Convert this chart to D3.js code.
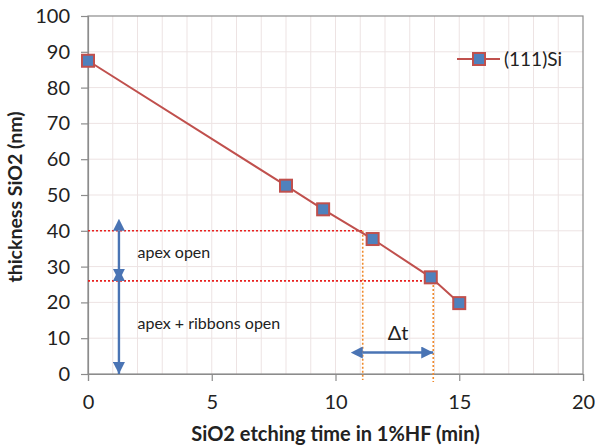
<!DOCTYPE html>
<html>
<head>
<meta charset="utf-8">
<script src="https://cdn.jsdelivr.net/npm/d3@7"></script>
<style>
  body { margin: 0; background: #fff; }
  text { font-family: Lato, "Open Sans", sans-serif; fill: #222; }
</style>
</head>
<body>
<div id="chart"></div>
<script>
// data
const etchTime = [0, 8, 9.5, 11.5, 13.85, 15];
const thickness = [87.5, 52.6, 46, 37.7, 27, 19.8];
const seriesName = "(111)Si";
const xTicks = [0, 5, 10, 15, 20];
const yTicks = [0, 10, 20, 30, 40, 50, 60, 70, 80, 90, 100];

// annotation levels
const apexLevel = 40;
const ribbonLevel = 26;
const apexTime = 11.1;
const ribbonTime = 13.95;
const arrowX = 1.25;
const dtArrowY = 6;

const dimensions = { width: 595, height: 448 };
const margins = { top: 16, right: 12, bottom: 74, left: 88 };
dimensions.ctrWidth = dimensions.width - margins.left - margins.right;
dimensions.ctrHeight = dimensions.height - margins.top - margins.bottom;

const svg = d3.select("#chart").append("svg")
  .attr("width", dimensions.width)
  .attr("height", dimensions.height);

const defs = svg.append("defs");
["start", "end"].forEach((k) => {
  defs.append("marker")
    .attr("id", "arrow-" + k)
    .attr("viewBox", "0 0 10 10")
    .attr("refX", k === "end" ? 10 : 0)
    .attr("refY", 5)
    .attr("markerWidth", 5)
    .attr("markerHeight", 5)
    .attr("markerUnits", "strokeWidth")
    .attr("orient", "auto-start-reverse")
    .append("path")
    .attr("d", "M0,0 L10,5 L0,10 z")
    .attr("fill", "#4a74b4");
});

const ctr = svg.append("g")
  .attr("transform", `translate(${margins.left}, ${margins.top})`);

const xScale = d3.scaleLinear().domain([0, 20]).range([0, dimensions.ctrWidth]);
const yScale = d3.scaleLinear().domain([0, 100]).range([dimensions.ctrHeight, 0]);

// gridlines
ctr.append("g").selectAll("line")
  .data(d3.range(1, 20))
  .join("line")
  .attr("x1", (d) => xScale(d)).attr("x2", (d) => xScale(d))
  .attr("y1", 0).attr("y2", dimensions.ctrHeight)
  .attr("stroke", "#ede3e3").attr("stroke-width", 1);

ctr.append("g").selectAll("line")
  .data(yTicks.slice(1, -1))
  .join("line")
  .attr("x1", 0).attr("x2", dimensions.ctrWidth)
  .attr("y1", (d) => yScale(d)).attr("y2", (d) => yScale(d))
  .attr("stroke", "#ede3e3").attr("stroke-width", 1);

// plot border
ctr.append("rect")
  .attr("x", 0).attr("y", 0)
  .attr("width", dimensions.ctrWidth).attr("height", dimensions.ctrHeight)
  .attr("fill", "none").attr("stroke", "#8c8c8c").attr("stroke-width", 1.2);

// axes
const yAxis = d3.axisLeft(yScale).tickValues(yTicks).tickSize(7).tickPadding(11);
const xAxis = d3.axisBottom(xScale).tickValues(xTicks).tickSize(7).tickPadding(14);

const yG = ctr.append("g").call(yAxis);
const xG = ctr.append("g")
  .attr("transform", `translate(0, ${dimensions.ctrHeight})`)
  .call(xAxis);

[yG, xG].forEach((g) => {
  g.select(".domain").attr("stroke", "#8c8c8c").attr("stroke-width", 1.2);
  g.selectAll(".tick line").attr("stroke", "#8c8c8c").attr("stroke-width", 1.2);
  g.selectAll(".tick text")
    .attr("font-family", "Lato, sans-serif")
    .attr("font-size", 20)
    .attr("fill", "#222");
});

// annotation guides
const dotted = "2,2";
ctr.append("line")
  .attr("x1", 0).attr("x2", xScale(apexTime))
  .attr("y1", yScale(apexLevel)).attr("y2", yScale(apexLevel))
  .attr("stroke", "#e8201e").attr("stroke-width", 1.6).attr("stroke-dasharray", dotted);
ctr.append("line")
  .attr("x1", 0).attr("x2", xScale(ribbonTime))
  .attr("y1", yScale(ribbonLevel)).attr("y2", yScale(ribbonLevel))
  .attr("stroke", "#e8201e").attr("stroke-width", 1.6).attr("stroke-dasharray", dotted);
ctr.append("line")
  .attr("x1", xScale(apexTime)).attr("x2", xScale(apexTime))
  .attr("y1", yScale(apexLevel)).attr("y2", dimensions.ctrHeight + 6)
  .attr("stroke", "#f08a2c").attr("stroke-width", 1.6).attr("stroke-dasharray", dotted);
ctr.append("line")
  .attr("x1", xScale(ribbonTime)).attr("x2", xScale(ribbonTime))
  .attr("y1", yScale(ribbonLevel)).attr("y2", dimensions.ctrHeight + 8)
  .attr("stroke", "#f08a2c").attr("stroke-width", 1.6).attr("stroke-dasharray", dotted);

// arrows
const arrows = [
  [arrowX, apexLevel, arrowX, ribbonLevel],
  [arrowX, ribbonLevel, arrowX, 0],
  [apexTime, dtArrowY, ribbonTime, dtArrowY],
];
ctr.append("g").selectAll("line")
  .data(arrows)
  .join("line")
  .attr("x1", (d) => xScale(d[0])).attr("y1", (d) => yScale(d[1]))
  .attr("x2", (d) => xScale(d[2])).attr("y2", (d) => yScale(d[3]))
  .attr("stroke", "#4a74b4").attr("stroke-width", 2.4)
  .attr("marker-start", "url(#arrow-start)")
  .attr("marker-end", "url(#arrow-end)");

ctr.append("text")
  .attr("x", xScale(2)).attr("y", yScale(34))
  .attr("dy", "0.35em")
  .attr("font-size", 16)
  .text("apex open");
ctr.append("text")
  .attr("x", xScale(2)).attr("y", yScale(14))
  .attr("dy", "0.35em")
  .attr("font-size", 16)
  .text("apex + ribbons open");
ctr.append("text")
  .attr("x", xScale((apexTime + ribbonTime) / 2)).attr("y", yScale(11.5))
  .attr("dy", "0.35em")
  .attr("text-anchor", "middle")
  .attr("font-size", 20)
  .text("Δt");

// series
const points = etchTime.map((t, i) => ({ t, v: thickness[i] }));
const lineGenerator = d3.line().x((d) => xScale(d.t)).y((d) => yScale(d.v));

ctr.append("path")
  .datum(points)
  .attr("d", lineGenerator)
  .attr("fill", "none")
  .attr("stroke", "#c0504d")
  .attr("stroke-width", 2);

const ms = 12;
ctr.append("g").selectAll("rect")
  .data(points)
  .join("rect")
  .attr("x", (d) => xScale(d.t) - ms / 2)
  .attr("y", (d) => yScale(d.v) - ms / 2)
  .attr("width", ms).attr("height", ms)
  .attr("fill", "#4f81bd")
  .attr("stroke", "#c0504d")
  .attr("stroke-width", 2);

// legend
const legend = svg.append("g").attr("transform", "translate(457, 59)");
legend.append("line")
  .attr("x1", 0).attr("x2", 43).attr("y1", 0).attr("y2", 0)
  .attr("stroke", "#c0504d").attr("stroke-width", 2);
legend.append("rect")
  .attr("x", 22 - ms / 2).attr("y", -ms / 2)
  .attr("width", ms).attr("height", ms)
  .attr("fill", "#4f81bd").attr("stroke", "#c0504d").attr("stroke-width", 2);
legend.append("text")
  .attr("x", 47).attr("y", 0).attr("dy", "0.35em")
  .attr("font-size", 19)
  .text(seriesName);

// axis titles
svg.append("text")
  .attr("transform", `translate(22, ${margins.top + dimensions.ctrHeight / 2 + 2}) rotate(-90)`)
  .attr("text-anchor", "middle")
  .attr("font-size", 19.5)
  .attr("font-weight", "bold")
  .text("thickness SiO2 (nm)");

svg.append("text")
  .attr("x", margins.left + dimensions.ctrWidth / 2)
  .attr("y", 441)
  .attr("text-anchor", "middle")
  .attr("font-size", 20)
  .attr("font-weight", "bold")
  .text("SiO2 etching time in 1%HF (min)");
</script>
</body>
</html>
